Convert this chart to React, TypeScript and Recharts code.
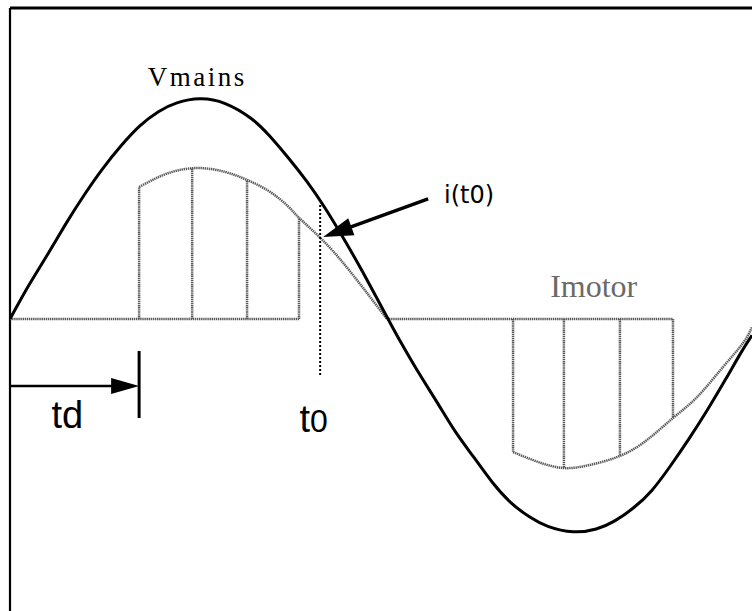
import React from 'react';
import { ComposedChart, Line, XAxis, YAxis, ReferenceLine, ReferenceDot } from 'recharts';

// Time in ms (one 50 Hz mains period = 20 ms), Vmains in V, Imotor in A.
const vmainsT = [0, 0.5, 1.0, 1.5, 2.0, 2.5, 3.0, 3.5, 4.0, 4.5, 5.12, 5.8, 6.5, 7.0, 7.5, 8.0, 8.5, 9.0, 9.5, 10.19, 10.5, 11.0, 11.5, 12.0, 12.5, 13.0, 13.5, 14.0, 14.5, 15.18, 15.8, 16.3, 16.8, 17.3, 17.8, 18.3, 18.8, 19.3, 19.7, 20.0];
const vmainsV = [0, 49, 94, 140, 183, 222, 256, 285, 306, 319, 325, 318, 296, 270, 238, 203, 163, 118, 70, 0, -31, -78, -122, -166, -204, -241, -271, -292, -306, -314, -310, -298, -279, -253, -217, -177, -134, -88, -50, -24];

const imotorPosT = [3.48, 4.0, 4.5, 5.12, 5.8, 6.39, 7.0, 7.5, 7.79, 8.36, 8.9, 9.43, 10.16];
const imotorPosI = [9.74, 10.47, 10.95, 11.14, 10.85, 10.26, 9.4, 8.3, 7.47, 6.0, 4.4, 2.6, 0];
const imotorNegT = [13.56, 14.23, 14.93, 15.63, 16.44, 17.17, 17.87, 18.52, 19.22, 19.76, 20.0];
const imotorNegI = [-9.82, -10.55, -11.0, -10.77, -10.11, -8.93, -7.31, -5.76, -3.54, -1.77, -0.59];

const sampleT = [3.48, 4.91, 6.39, 7.79, 13.56, 14.93, 16.44, 17.87];
const sampleI = [9.74, 11.1, 10.26, 7.47, -9.82, -11.0, -10.11, -7.31];
const baselineStartT = [0, 10.16];
const baselineEndT = [7.79, 17.87];

const TD = 3.48;
const T0 = 8.36;
const t0LineI = [8.41, -4.13];
const tdArrowI = -4.94;
const tdTickI = [-2.36, -7.31];
const arrowTail = { t: 11.27, i: 8.86 };
const arrowTip = { t: 8.44, i: 6.05 };

const T_DOMAIN = [0, 20];
const V_DOMAIN = [-431, 459];
const I_DOMAIN = [-21.55, 22.95];

const W = 752;
const H = 611;
const M = { top: 7, right: 0, bottom: 0, left: 10 };
const PLOT_LEFT = M.left;
const PLOT_TOP = M.top + 1;
const PX_PER_MS = (W - PLOT_LEFT - M.right) / (T_DOMAIN[1] - T_DOMAIN[0]);
const PX_PER_A = (H - PLOT_TOP - M.bottom) / (I_DOMAIN[1] - I_DOMAIN[0]);

const vmainsData = vmainsT.map((t, k) => ({ t, v: vmainsV[k] }));
const posData = imotorPosT.map((t, k) => ({ t, i: imotorPosI[k] }));
const negData = imotorNegT.map((t, k) => ({ t, i: imotorNegI[k] }));

const GRAY = '#595959';
const GRAY_DASH = '1.4 0.7';

const arrowHead = (angleDeg: number, len: number, half: number) => (p: any) => (
  <polygon
    points={`${p.cx},${p.cy} ${p.cx - len},${p.cy - half} ${p.cx - len},${p.cy + half}`}
    transform={`rotate(${angleDeg} ${p.cx} ${p.cy})`}
    fill="#000"
  />
);

const textShape = (content: React.ReactNode, style: any) => (p: any) => (
  <text x={p.cx} y={p.cy} {...style}>
    {content}
  </text>
);

// i(t0) arrow geometry in pixels (for the head orientation)
const dxPx = (arrowTip.t - arrowTail.t) * PX_PER_MS;
const dyPx = -(arrowTip.i - arrowTail.i) * PX_PER_A;
const lenPx = Math.sqrt(dxPx * dxPx + dyPx * dyPx);
const angle = (Math.atan2(dyPx, dxPx) * 180) / Math.PI;
const HEAD = 30;
const arrowBase = {
  t: arrowTip.t + (arrowTail.t - arrowTip.t) * ((HEAD - 4) / lenPx),
  i: arrowTip.i + (arrowTail.i - arrowTip.i) * ((HEAD - 4) / lenPx),
};

export default function App() {
  return (
    <div style={{ position: 'fixed', left: 0, top: 0, width: W, height: H, overflow: 'hidden', background: '#fff' }}>
      <ComposedChart width={W} height={H} margin={M}>
        <XAxis
          type="number"
          dataKey="t"
          domain={T_DOMAIN}
          allowDataOverflow
          orientation="top"
          height={1}
          tick={false}
          tickLine={false}
          axisLine={{ stroke: '#000', strokeWidth: 3 }}
        />
        <YAxis yAxisId="v" type="number" domain={V_DOMAIN} allowDataOverflow hide />
        <YAxis yAxisId="i" type="number" domain={I_DOMAIN} allowDataOverflow hide />

        {/* left frame edge */}
        <ReferenceLine yAxisId="v" x={T_DOMAIN[0]} stroke="#000" strokeWidth={2.2} />

        {baselineStartT.map((s, k) => (
          <ReferenceLine
            key={'b' + k}
            yAxisId="i"
            segment={[{ x: s, y: 0 }, { x: baselineEndT[k], y: 0 }]}
            stroke={GRAY}
            strokeWidth={2.5}
            strokeDasharray={GRAY_DASH}
          />
        ))}
        {sampleT.map((t, k) => (
          <ReferenceLine
            key={'s' + k}
            yAxisId="i"
            segment={[{ x: t, y: 0 }, { x: t, y: sampleI[k] }]}
            stroke={GRAY}
            strokeWidth={2.5}
            strokeDasharray={GRAY_DASH}
          />
        ))}

        <Line
          yAxisId="i"
          data={posData}
          dataKey="i"
          type="natural"
          stroke={GRAY}
          strokeWidth={2.5}
          strokeDasharray={GRAY_DASH}
          dot={false}
          activeDot={false}
          isAnimationActive={false}
        />
        <Line
          yAxisId="i"
          data={negData}
          dataKey="i"
          type="natural"
          stroke={GRAY}
          strokeWidth={2.5}
          strokeDasharray={GRAY_DASH}
          dot={false}
          activeDot={false}
          isAnimationActive={false}
        />
        <Line
          yAxisId="v"
          data={vmainsData}
          dataKey="v"
          type="natural"
          stroke="#000"
          strokeWidth={3}
          dot={false}
          activeDot={false}
          isAnimationActive={false}
        />

        {/* t0 marker */}
        <ReferenceLine
          yAxisId="i"
          segment={[{ x: T0, y: t0LineI[0] }, { x: T0, y: t0LineI[1] }]}
          stroke="#000"
          strokeWidth={2}
          strokeDasharray="2 2"
        />

        {/* td arrow */}
        <ReferenceLine
          yAxisId="i"
          segment={[{ x: 0, y: tdArrowI }, { x: TD - 0.5, y: tdArrowI }]}
          stroke="#000"
          strokeWidth={2.5}
        />
        <ReferenceDot yAxisId="i" x={TD} y={tdArrowI} shape={arrowHead(0, 28, 8)} />
        <ReferenceLine
          yAxisId="i"
          segment={[{ x: TD, y: tdTickI[0] }, { x: TD, y: tdTickI[1] }]}
          stroke="#000"
          strokeWidth={3}
        />

        {/* i(t0) arrow */}
        <ReferenceLine
          yAxisId="i"
          segment={[{ x: arrowTail.t, y: arrowTail.i }, { x: arrowBase.t, y: arrowBase.i }]}
          stroke="#000"
          strokeWidth={3.5}
        />
        <ReferenceDot yAxisId="i" x={arrowTip.t} y={arrowTip.i} shape={arrowHead(angle, HEAD, 9)} />

        {/* labels */}
        <ReferenceDot
          yAxisId="i"
          x={5.05}
          y={17.2}
          shape={textShape('Vmains', {
            textAnchor: 'middle',
            fontFamily: '"Liberation Serif", "Times New Roman", serif',
            fontSize: 27,
            letterSpacing: 2.5,
            fill: '#000',
          })}
        />
        <ReferenceDot
          yAxisId="i"
          x={14.56}
          y={1.62}
          shape={textShape('Imotor', {
            fontFamily: '"Liberation Serif", "Times New Roman", serif',
            fontSize: 32,
            fill: '#6a6a6a',
          })}
        />
        <ReferenceDot
          yAxisId="i"
          x={11.7}
          y={8.56}
          shape={textShape('i(t0)', {
            fontFamily: '"DejaVu Sans", Verdana, sans-serif',
            fontSize: 24,
            fill: '#000',
          })}
        />
        <ReferenceDot
          yAxisId="i"
          x={1.12}
          y={-8.04}
          shape={textShape('td', {
            fontFamily: '"Liberation Sans", Arial, sans-serif',
            fontSize: 38,
            fill: '#000',
          })}
        />
        <ReferenceDot
          yAxisId="i"
          x={7.8}
          y={-8.34}
          shape={textShape(
            <>
              <tspan fontSize={38}>t</tspan>
              <tspan fontSize={32}>0</tspan>
            </>,
            {
              fontFamily: '"Liberation Sans", Arial, sans-serif',
              fill: '#000',
            }
          )}
        />
      </ComposedChart>
    </div>
  );
}
